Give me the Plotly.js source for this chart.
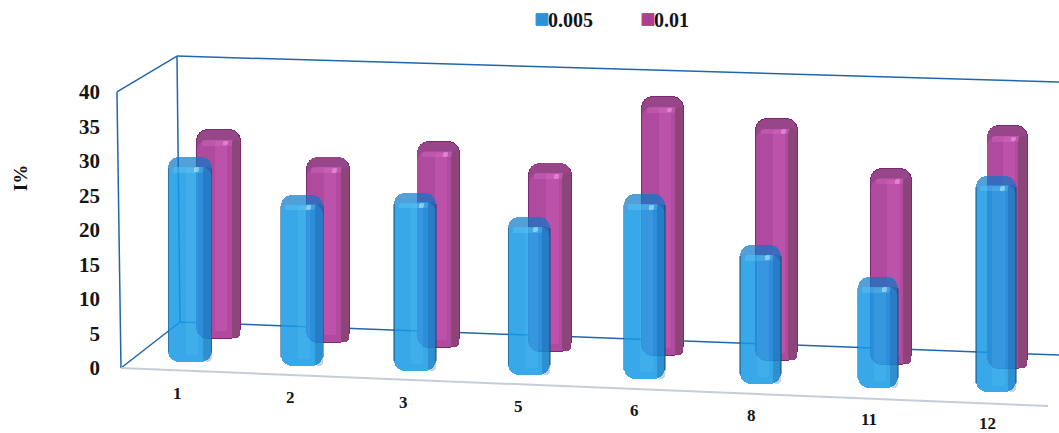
<!DOCTYPE html>
<html>
<head>
<meta charset="utf-8">
<script src="https://cdn.plot.ly/plotly-3.0.1.min.js"></script>
<style>html,body{margin:0;padding:0;background:#fff}#chart{width:1059px;height:433px}</style>
</head>
<body>
<div id="chart"></div>
<script>
// Inhibition (I%) per sample at two concentrations
const categories = ['1', '2', '3', '5', '6', '8', '11', '12'];
const series005 = [29.7, 24.9, 25.8, 22.9, 26.8, 20.1, 16.1, 31.4];
const series001 = [30.1, 26.8, 29.7, 27.2, 37.4, 34.9, 28.3, 35.1];
const valueTicks = [0, 5, 10, 15, 20, 25, 30, 35, 40];

const SERIF = '"Liberation Serif", serif';
const INK = '#141414';

// Oblique floor: category slots widen and the floor falls toward the right
const slot = i => i + 0.0047 * i * (i - 1);
const floorFall = i => 0.63 * i;

// Builds the stacked facets that give one series its extruded, rounded look.
// Bars with a base get all four corners rounded, which suits the capsule shape.
function columnTraces(values, look) {
  const xc = values.map((_, i) => slot(i) + look.dx(i));
  const bw = values.map((_, i) => look.w(i));
  const foot = values.map((_, i) => look.lift - floorFall(i));
  const top = values.map((v, i) => foot[i] + v);
  const facet = (x, width, base, y, color, r) => ({
    type: 'bar', hoverinfo: 'skip', showlegend: false,
    x, width, base, y, marker: { color, cornerradius: r }
  });
  const shaft = values.map(v => v - look.cap);
  const out = [];

  if (look.rim) out.push(facet(xc, bw.map(w => w + 0.016), foot.map(f => f - 0.12), values.map(v => v + 0.24), look.rim, look.r + 1));
  // whole column in the shade of its top face
  out.push(facet(xc, bw, foot, values, look.capColor, look.r));
  // front face stops short of the top
  out.push(facet(xc, bw, foot, shaft, look.body, look.r));
  // right-hand face
  out.push(facet(xc.map((x, i) => x + bw[i] / 2 - look.side / 2), bw.map(() => look.side), foot, shaft, look.sideColor, 7));
  // soft vertical sheen on the front face
  out.push(facet(xc.map(x => x + 0.02), bw.map(() => 0.11), foot.map(f => f + 1), shaft.map(s => s - 1.2), look.sheen, 3));
  // lit band and glint under the top face
  out.push(facet(xc.map(x => x - 0.015), bw.map(w => w * 0.7), top.map(t => t - look.cap - 0.85), values.map(() => 0.8), look.band, 2));
  out.push(facet(xc.map(x => x + 0.06), bw.map(() => 0.045), top.map(t => t - look.cap - 0.8), values.map(() => 0.7), look.glint, 2));
  // fine dark edges along the shaft
  if (look.edge) {
    [-1, 1].forEach(sign => {
      out.push(facet(xc.map((x, i) => x + sign * bw[i] / 2), bw.map(() => 0.012), foot.map(f => f + 1.4), values.map(v => v - 3), look.edge, 0));
    });
  }
  return out;
}

const traces = [
  ...columnTraces(series001, {
    lift: 4.35,
    dx: i => 0.254 - 0.0223 * i,
    w: i => 0.385 - 0.005 * i,
    r: 11, side: 0.075, cap: 1.4,
    rim: '#7a2a70',
    body: '#b04a9f',
    sideColor: '#8d4479',
    sheen: 'rgba(225,110,205,0.24)',
    capColor: '#97468a',
    band: 'rgba(240,130,220,0.22)',
    glint: 'rgba(255,170,240,0.45)'
  }),
  ...columnTraces(series005, {
    lift: 0.87,
    dx: () => 0,
    w: i => 0.385 - 0.004 * i,
    r: 11, side: 0.075, cap: 1.4,
    body: 'rgba(30,175,250,0.5)',
    sideColor: 'rgba(20,70,130,0.24)',
    sheen: 'rgba(120,215,255,0.14)',
    capColor: 'rgba(10,120,200,0.7)',
    band: 'rgba(150,230,255,0.2)',
    glint: 'rgba(210,250,255,0.45)',
    edge: 'rgba(20,70,115,0.5)'
  }),
  // legend keys
  { type: 'bar', name: '0.005', x: [null], y: [null], legendrank: 1, hoverinfo: 'skip', marker: { color: '#2f8fd8', line: { color: '#3a9fe0', width: 1 } } },
  { type: 'bar', name: '0.01', x: [null], y: [null], legendrank: 2, hoverinfo: 'skip', marker: { color: '#a8409a', line: { color: '#e0405f', width: 1 } } }
];

// Chart box drawn behind the columns
const wallBlue = '#1f67ad';
const segment = (x0, y0, x1, y1, color, width) => ({
  type: 'line', xref: 'x', yref: 'y', layer: 'below', x0, y0, x1, y1,
  line: { color, width }
});
const shapes = [
  segment(-0.652, 40, -0.616, 0, wallBlue, 1.5),
  segment(-0.652, 40, -0.116, 45.2, wallBlue, 1.5),
  segment(-0.116, 45.2, -0.089, 6.67, wallBlue, 1.5),
  segment(-0.116, 45.2, 7.759, 41.45, wallBlue, 1.5),
  segment(-0.616, 0, -0.089, 6.67, wallBlue, 1.5),
  segment(-0.089, 6.67, 7.759, 1.88, wallBlue, 1.5),
  segment(-0.616, 0, 7.661, -5.51, '#c6ccd8', 2)
];

const annotations = categories.map((c, i) => ({
  text: '<b>' + c + '</b>', xref: 'x', yref: 'y', showarrow: false,
  x: slot(i) - 0.11 + 0.005 * i, y: -3.7 - 0.63 * i, borderpad: 0,
  font: { family: SERIF, size: 17, color: INK }
}));
annotations.push({
  text: '<b>I%</b>', xref: 'paper', yref: 'y', showarrow: false, textangle: -90,
  x: (20 - 108) / 951, y: 27.5, xanchor: 'center', yanchor: 'middle',
  font: { family: SERIF, size: 19, color: INK }
});

const layout = {
  width: 1059, height: 433,
  margin: { l: 108, r: 0, t: 0, b: 0 },
  paper_bgcolor: '#fff', plot_bgcolor: '#fff',
  barmode: 'overlay', bargap: 0,
  xaxis: { range: [-0.732, 7.759], visible: false, fixedrange: true },
  yaxis: {
    range: [-9.42, 53.33], tickvals: valueTicks, ticktext: valueTicks.map(v => '<b>' + v + '</b>'),
    showgrid: false, zeroline: false, showline: false, ticks: '', ticklabelstandoff: 7,
    tickfont: { family: SERIF, size: 21, color: INK }, fixedrange: true
  },
  legend: {
    orientation: 'h', x: (508 - 108) / 951, xanchor: 'left', y: 1, yanchor: 'top',
    entrywidth: 61, entrywidthmode: 'pixels', bgcolor: 'rgba(0,0,0,0)',
    font: { family: SERIF, size: 20, color: INK, weight: 'bold' }, itemclick: false, itemdoubleclick: false
  },
  shapes, annotations
};

Plotly.newPlot('chart', traces, layout, { displayModeBar: false }).then(() => {
  // Pull each legend swatch up against its label
  document.querySelectorAll('.legendsymbols').forEach(g => g.setAttribute('transform', 'translate(14,0)'));
});
</script>
</body>
</html>
